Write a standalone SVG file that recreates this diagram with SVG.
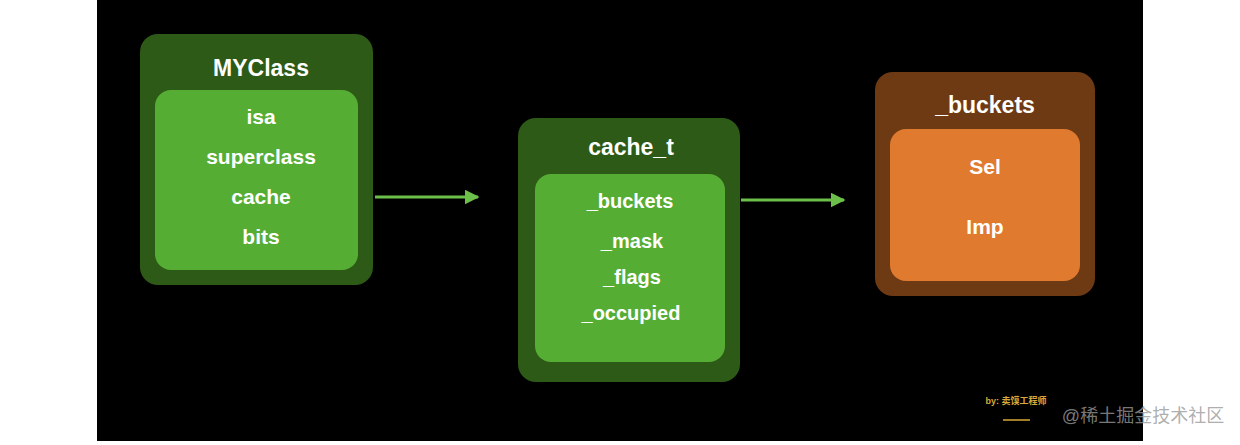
<svg xmlns="http://www.w3.org/2000/svg" width="1240" height="445" viewBox="0 0 1240 445">
<defs>
<style>
text{font-family:"Liberation Sans",Arial,sans-serif;font-weight:bold;fill:#fff;text-anchor:middle}
.t{font-size:23px}.i{font-size:21px}.s{font-size:20px}
.outerG{fill:#2e5a18}.innerG{fill:#55ad34}
.c{stroke:#6cc04a;stroke-width:3;fill:none}
</style>
<marker id="a" viewBox="0 0 10 10" refX="9" refY="5" markerWidth="5" markerHeight="5" orient="auto"><path d="M0,0L10,5L0,10z" fill="#6cc04a"/></marker>
</defs>
<rect width="1240" height="445" fill="#fff"/>
<rect x="97" y="0" width="1046" height="441" fill="#000"/>
<g id="myclass">
<rect class="outerG" x="140" y="34" width="233" height="251" rx="18"/>
<text class="t" x="261" y="76">MYClass</text>
<rect class="innerG" x="155" y="90" width="203" height="180" rx="16"/>
<text class="i" x="261" y="124">isa</text>
<text class="i" x="261" y="164">superclass</text>
<text class="i" x="261" y="204">cache</text>
<text class="i" x="261" y="244">bits</text>
</g>
<g id="cache_t">
<rect class="outerG" x="518" y="118" width="222" height="264" rx="18"/>
<text class="t" x="631" y="155">cache_t</text>
<rect class="innerG" x="535" y="174" width="190" height="188" rx="16"/>
<text class="s" x="630" y="208">_buckets</text>
<text class="s" x="632" y="248">_mask</text>
<text class="s" x="632" y="284">_flags</text>
<text class="s" x="631" y="320">_occupied</text>
</g>
<g id="buckets">
<rect fill="#6e3a14" x="875" y="72" width="220" height="224" rx="18"/>
<text class="t" x="985" y="113">_buckets</text>
<rect fill="#e07a2e" x="890" y="129" width="190" height="152" rx="16"/>
<text class="i" x="985" y="174">Sel</text>
<text class="i" x="985" y="234">Imp</text>
</g>
<g id="connectors">
<line class="c" x1="375" y1="197" x2="478" y2="197" marker-end="url(#a)"/>
<line class="c" x1="741" y1="200" x2="844" y2="200" marker-end="url(#a)"/>
</g>
<text x="1016" y="404" style="font-size:9px;fill:#d9a838;font-family:'Liberation Sans','Noto Sans CJK SC',sans-serif">by: 卖馍工程师</text>
<line x1="1003" y1="420" x2="1030" y2="420" stroke="#d9a838" stroke-width="1.5"/>
<text x="1143" y="422" style="font-size:18px;font-weight:normal;fill:#999;fill-opacity:0.8;font-family:'Liberation Sans','Noto Sans CJK SC',sans-serif">@稀土掘金技术社区</text>
</svg>
